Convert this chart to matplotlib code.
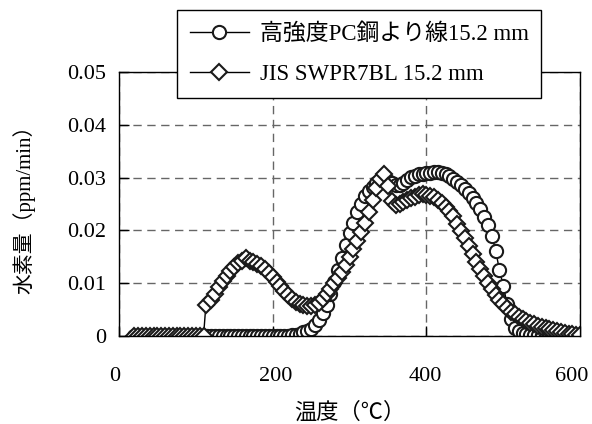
import matplotlib
matplotlib.use("Agg")
import matplotlib.pyplot as plt
import matplotlib.transforms as mtransforms

plt.rcParams['font.family'] = ['Liberation Serif', 'Noto Sans CJK JP']

# 高強度PC鋼より線15.2 mm (circles)
temp_pc = [20, 25, 30, 35, 40, 45, 50, 55, 60, 65, 70, 75, 80, 85, 90, 95, 100,
           105, 110, 115, 120, 125, 130, 135, 140, 145, 150, 155, 160, 165, 170,
           175, 180, 185, 190, 195, 200, 205, 210, 215, 220, 225, 230, 235, 240,
           245, 250, 255, 260, 265, 270, 275, 280, 285, 290, 295, 300, 305, 310,
           315, 320, 325, 330, 335, 340, 345, 350, 355, 360, 365, 370, 375, 380,
           385, 390, 395, 400, 405, 410, 415, 420, 425, 430, 435, 440, 445, 450,
           455, 460, 465, 470, 475, 480, 485, 490, 495, 500, 505, 510, 515, 520,
           525, 530, 535, 540, 545, 550, 555, 560, 565, 570]
h_pc = [0, 0, 0, 0, 0, 0, 0, 0, 0, 0, 0, 0, 0, 0, 0, 0, 0,
        0, 0, 0, 0, 0, 0, 0, 0, 0, 0, 0, 0, 0, 0,
        0, 0, 0, 0, 0, 0, 0, 0, 0, 0, 0.0001, 0.0002, 0.0004, 0.0007,
        0.0010, 0.0014, 0.0020, 0.0030, 0.0043, 0.0058, 0.0080, 0.0103, 0.0125,
        0.0148, 0.0172, 0.0195, 0.0215, 0.0235,
        0.0250, 0.0265, 0.0275, 0.0283, 0.0289, 0.0293, 0.0295, 0.0293, 0.0290,
        0.0286, 0.0286, 0.0290, 0.0296, 0.0301,
        0.0304, 0.0306, 0.0307, 0.0308, 0.0309, 0.0310, 0.0310, 0.0309, 0.0307,
        0.0303, 0.0298, 0.0292, 0.0286, 0.0278,
        0.0271, 0.0262, 0.0252, 0.0240, 0.0226, 0.0210, 0.0190, 0.0162, 0.0125,
        0.0095, 0.0060, 0.0032, 0.0016, 0.0009,
        0.0005, 0.0003, 0.0002, 0.0001, 0.0001, 0.0001, 0, 0, 0, 0]

# JIS SWPR7BL 15.2 mm (diamonds)
temp_jis = [20, 25, 30, 35, 40, 45, 50, 55, 60, 65, 70, 75, 80, 85, 90, 95, 100,
            105, 110, 113, 120, 125, 130, 135, 140, 145, 150, 155, 160, 165, 170,
            175, 180, 185, 190, 195, 200, 205, 210, 215, 220, 225, 230, 235, 240,
            245, 250, 255, 260, 265, 270, 275, 280, 285, 290, 295, 300, 305, 310,
            315, 320, 325, 330, 335, 340, 345, 350, 355, 360, 365, 370, 375, 380,
            385, 390, 395, 400, 405, 410, 415, 420, 425, 430, 435, 440, 445, 450,
            455, 460, 465, 470, 475, 480, 485, 490, 495, 500, 505, 510, 515, 520,
            525, 530, 535, 540, 545, 550, 555, 560, 565, 570, 575, 580, 585, 590,
            595, 600]
h_jis = [0, 0, 0, 0, 0, 0, 0, 0, 0, 0, 0, 0, 0, 0, 0, 0, 0,
         0, 0, 0.0058, 0.0068, 0.0080, 0.0092, 0.0104, 0.0114, 0.0124, 0.0131,
         0.0138, 0.0143, 0.0147, 0.0143,
         0.0140, 0.0137, 0.0133, 0.0127, 0.0120, 0.0112, 0.0103, 0.0094, 0.0085,
         0.0077, 0.0070, 0.0065, 0.0061, 0.0058,
         0.0056, 0.0056, 0.0058, 0.0063, 0.0070, 0.0080, 0.0090, 0.0100, 0.0110,
         0.0122, 0.0135, 0.0150, 0.0165, 0.0180,
         0.0197, 0.0215, 0.0235, 0.0258, 0.0280, 0.0298, 0.0306, 0.0285, 0.0256,
         0.0249, 0.0250, 0.0253, 0.0257, 0.0261,
         0.0264, 0.0267, 0.0269, 0.0268, 0.0266, 0.0263, 0.0258, 0.0252, 0.0245,
         0.0237, 0.0227, 0.0213, 0.0199, 0.0185,
         0.0170, 0.0155, 0.0141, 0.0127, 0.0113, 0.0101, 0.0089, 0.0078, 0.0068,
         0.0060, 0.0053, 0.0046, 0.0041, 0.0036,
         0.0032, 0.0028, 0.0025, 0.0022, 0.0019, 0.0017, 0.0015, 0.0013, 0.0011,
         0.0009, 0.0007, 0.0006, 0.0004, 0.0003,
         0.0002, 0.0001]

x_ticks = [0, 200, 400, 600]
y_ticks = [0, 0.01, 0.02, 0.03, 0.04, 0.05]
y_tick_labels = ['0', '0.01', '0.02', '0.03', '0.04', '0.05']

fig = plt.figure(figsize=(5.92, 4.24), dpi=100)
ax = fig.add_axes([0.201, 0.2075, 0.779, 0.6225])

ax.plot(temp_pc, h_pc, color='black', lw=1.0, marker='o', markersize=9.5,
        markerfacecolor='white', markeredgecolor='#1a1a1a', markeredgewidth=1.5,
        label='高強度PC鋼より線15.2 mm')
ax.plot(temp_jis, h_jis, color='black', lw=1.0, marker='D', markersize=8,
        markerfacecolor='white', markeredgecolor='#1a1a1a', markeredgewidth=1.5,
        label='JIS SWPR7BL 15.2 mm')

ax.set_xlim(0, 600)
ax.set_ylim(0, 0.05)
ax.set_xticks(x_ticks)
ax.set_yticks(y_ticks)
ax.set_yticklabels(y_tick_labels)
ax.tick_params(direction='in', labelsize=16, length=7, width=1)
ax.tick_params(axis='x', pad=22)
ax.tick_params(axis='y', pad=9)
ax.grid(True, color='#666666', linestyle=(0, (6, 4)), lw=1)
for s in ax.spines.values():
    s.set_linewidth(1)
    s.set_color('black')

# nudge x tick labels like in the original print
for lab, dx in zip(ax.get_xticklabels(), [-4, 3, -1, -8]):
    lab.set_transform(lab.get_transform() +
                      mtransforms.ScaledTranslation(dx / 100, 0, fig.dpi_scale_trans))

ax.set_xlabel('温度（℃）', fontsize=16, labelpad=12)
ax.set_ylabel('水素量（ppm/min）', fontsize=15, labelpad=23)

leg = ax.legend(loc='upper left', bbox_to_anchor=(0.299, 0.976),
                bbox_transform=fig.transFigure, borderaxespad=0,
                fontsize=16.5, frameon=True, fancybox=False, framealpha=1,
                edgecolor='black', handlelength=2.6, handletextpad=0.45,
                borderpad=0.55, labelspacing=0.85)
leg.get_frame().set_linewidth(1)
leg.set_zorder(5)

fig.savefig('out.png', dpi=100)
